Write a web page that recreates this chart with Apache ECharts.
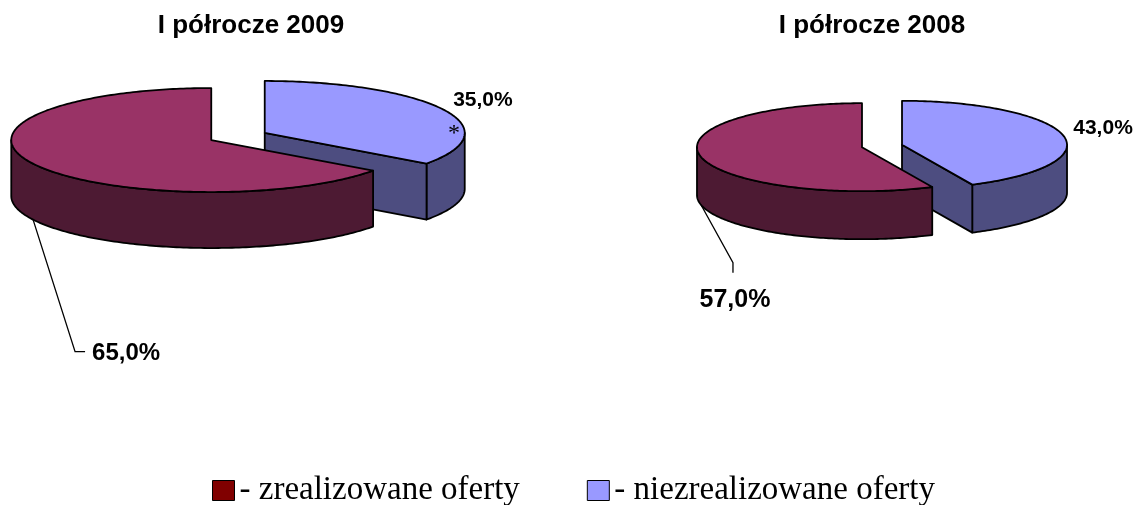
<!DOCTYPE html>
<html>
<head>
<meta charset="utf-8">
<title>Oferty - I półrocze 2009 / 2008</title>
<script src="https://cdn.jsdelivr.net/npm/echarts@6.0.0/dist/echarts.min.js"></script>
<style>
  html, body { margin: 0; padding: 0; background: #fff; }
  #chart { width: 1141px; height: 505px; }
</style>
</head>
<body>
<div id="chart"></div>
<script>
// dane
const categories = ['zrealizowane oferty', 'niezrealizowane oferty']
const periods = ['I półrocze 2009', 'I półrocze 2008']
const zrealizowane = [65.0, 57.0]
const niezrealizowane = [35.0, 43.0]
const labelsZrealizowane = ['65,0%', '57,0%']
const labelsNiezrealizowane = ['35,0%', '43,0%']

const seriesValues = [zrealizowane, niezrealizowane]
const seriesLabels = [labelsZrealizowane, labelsNiezrealizowane]

// kolejność wycinków od godziny 12, zgodnie z ruchem wskazówek zegara
const sliceOrder = [1, 0]

// kolory: wierzch, bok, legenda
const topColors = ['#993366', '#9999FF']
const sideColors = ['#4D1A33', '#4D4D80']
const legendColors = ['#800000', '#9999FF']

// geometria tortów 3D (środek, półosie elipsy, grubość, wysunięcie)
const pies = [
  { cx: 238, cy: 136.5, rx: 200, ry: 52, depth: 56, explode: 30 },
  { cx: 882, cy: 146, rx: 165, ry: 44, depth: 48, explode: 20.5 }
]
const titleCenters = [246, 867]

// położenie etykiet względem krawędzi wycinka [tort][kategoria]
const labelLayout = [
  [
    { anchor: 'bottom', leader: [[42, 132], [52, 132]], text: [59, 134], align: 'left', size: 24 },
    { anchor: 'top', text: [40, -9], align: 'center', size: 21, note: { text: '*', at: [11, 24] } }
  ],
  [
    { anchor: 'bottom', leader: [[32, 58], [32, 68]], text: [34, 95], align: 'center', size: 25 },
    { anchor: 'top', text: [40, -7], align: 'center', size: 21 }
  ]
]

const rad = d => d * Math.PI / 180

function sliceGeom(cat, p) {
  const g = pies[p]
  const total = seriesValues.reduce((s, arr) => s + arr[p], 0)
  let a = 0
  for (const k of sliceOrder) {
    if (k === cat) break
    a += seriesValues[k][p] / total * 360
  }
  const b = a + seriesValues[cat][p] / total * 360
  const m = (a + b) / 2
  const vx = g.cx + g.explode * Math.sin(rad(m))
  const vy = g.cy - g.explode * Math.cos(rad(m)) * g.ry / g.rx
  return { a, b, m, vx, vy, g }
}

function renderSlice(params, api) {
  const cat = params.seriesIndex
  const p = params.dataIndex
  const s = sliceGeom(cat, p)
  const g = s.g
  const pt = (t, dz) => [s.vx + g.rx * Math.sin(rad(t)), s.vy - g.ry * Math.cos(rad(t)) + dz]
  const arc = (t0, t1, dz) => {
    const n = Math.max(2, Math.ceil(Math.abs(t1 - t0)))
    const out = []
    for (let i = 0; i <= n; i++) out.push(pt(t0 + (t1 - t0) * i / n, dz))
    return out
  }

  // wycinek bliżej widza rysowany później
  let rank = 0
  categories.forEach((c, k) => {
    if (k !== cat && sliceGeom(k, p).vy < s.vy) rank++
  })
  const z = rank * 10

  const line = { stroke: '#000', lineWidth: 1.8, lineJoin: 'round' }
  const top = [s.vx, s.vy]
  const bot = [s.vx, s.vy + g.depth]
  const children = []

  // ściana zewnętrzna
  const lo = Math.max(s.a, 90)
  const hi = Math.min(s.b, 270)
  if (hi > lo) {
    const pts = arc(lo, hi, 0).concat(arc(lo, hi, g.depth).reverse())
    children.push({ type: 'polygon', z2: z + 1, shape: { points: pts }, style: Object.assign({ fill: sideColors[cat] }, line) })
  }
  // ściany cięcia
  if (Math.sin(rad(s.b)) > 1e-6) {
    children.push({ type: 'polygon', z2: z + 1, shape: { points: [top, pt(s.b, 0), pt(s.b, g.depth), bot] }, style: Object.assign({ fill: sideColors[cat] }, line) })
  }
  if (Math.sin(rad(s.a)) < -1e-6) {
    children.push({ type: 'polygon', z2: z + 1, shape: { points: [top, pt(s.a, 0), pt(s.a, g.depth), bot] }, style: Object.assign({ fill: sideColors[cat] }, line) })
  }
  // wierzch
  children.push({ type: 'polygon', z2: z + 2, shape: { points: [top].concat(arc(s.a, s.b, 0)) }, style: Object.assign({ fill: topColors[cat] }, line) })

  // etykieta
  const L = labelLayout[p][cat]
  const anc = L.anchor === 'bottom' ? pt(s.m, g.depth) : pt(s.m, 0)
  if (L.leader) {
    const pts = [anc].concat(L.leader.map(o => [anc[0] + o[0], anc[1] + o[1]]))
    children.push({ type: 'polyline', z2: 100, shape: { points: pts }, style: { stroke: '#000', lineWidth: 1.3, fill: null } })
  }
  children.push({
    type: 'text', z2: 100,
    style: {
      text: seriesLabels[cat][p], x: anc[0] + L.text[0], y: anc[1] + L.text[1],
      fill: '#000', align: L.align, verticalAlign: 'middle',
      fontFamily: 'Arial, "Liberation Sans", sans-serif', fontWeight: 'bold', fontSize: L.size
    }
  })
  if (L.note) {
    children.push({
      type: 'text', z2: 100,
      style: {
        text: L.note.text, x: anc[0] + L.note.at[0], y: anc[1] + L.note.at[1],
        fill: '#000', align: 'center', verticalAlign: 'middle',
        fontFamily: '"Liberation Serif", "Times New Roman", serif', fontSize: 24
      }
    })
  }
  return { type: 'group', children }
}

const chart = echarts.init(document.getElementById('chart'))

const option = {
  animation: false,
  title: periods.map((t, i) => ({
    text: t,
    left: titleCenters[i],
    top: 8,
    textAlign: 'center',
    textStyle: { fontFamily: 'Arial, "Liberation Sans", sans-serif', fontWeight: 'bold', fontSize: 26, color: '#000' }
  })),
  legend: {
    data: categories,
    left: 207,
    top: 469,
    icon: 'rect',
    itemWidth: 22,
    itemHeight: 20,
    itemGap: 67,
    selectedMode: false,
    formatter: '- {name}',
    itemStyle: { borderColor: '#000', borderWidth: 1 },
    textStyle: { fontFamily: '"Liberation Serif", "Times New Roman", serif', fontSize: 33, color: '#000' }
  },
  series: categories.map((name, i) => ({
    type: 'custom',
    name,
    coordinateSystem: 'none',
    data: seriesValues[i],
    itemStyle: { color: legendColors[i] },
    renderItem: renderSlice
  }))
}

chart.setOption(option)
</script>
</body>
</html>
